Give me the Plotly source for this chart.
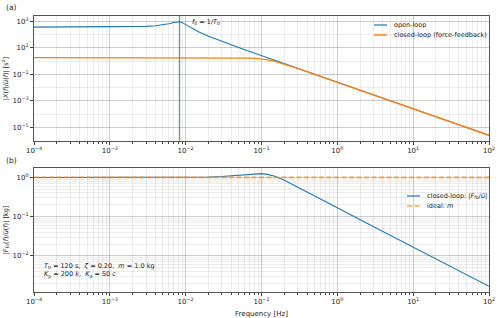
import math
import plotly.graph_objects as go

# ---- data ----
freq = [1e-4, 2e-4, 5e-4, 1e-3, 2e-3, 3e-3, 4e-3, 5e-3, 6e-3, 7e-3, 7.5e-3, 8e-3,
        8.333e-3, 9e-3, 1e-2, 1.2e-2, 1.5e-2, 2e-2, 3e-2, 4e-2, 5e-2, 7e-2, 8.5e-2,
        0.1, 0.12, 0.15, 0.2, 0.3, 0.5, 1, 2, 5, 10, 20, 50, 100]
open_loop = [364.8, 364.95, 365.96, 369.6, 385.0, 413.4, 459.9, 533.6, 650.0, 816.5,
             896.1, 930.7, 911.9, 787.9, 560.2, 299.4, 155.0, 75.12, 30.28, 16.49,
             10.397, 5.238, 3.537, 2.549, 1.767, 1.129, 0.6343, 0.2816, 0.10135,
             0.025332, 0.0063327, 0.0010132, 2.5331e-4, 6.3326e-5, 1.01321e-5, 2.533e-6]
closed_loop = [1.8147, 1.8147, 1.8147, 1.8147, 1.8146, 1.8145, 1.8144, 1.8143, 1.8142,
               1.8142, 1.8142, 1.8142, 1.8142, 1.8142, 1.8142, 1.8138, 1.8131, 1.8121,
               1.8069, 1.7942, 1.7754, 1.6937, 1.5889, 1.4512, 1.2414, 0.9419, 0.5915,
               0.27665, 0.100966, 0.025315, 0.0063318, 0.0010132, 2.5331e-4, 6.3326e-5,
               1.01321e-5, 2.533e-6]
force_fb = [0.99505, 0.99506, 0.99508, 0.99509, 0.9957, 0.9967, 0.9980, 0.9996, 1.0012,
            1.0030, 1.0039, 1.0049, 1.0055, 1.0068, 1.0019, 1.0035, 1.0110, 1.0218,
            1.0530, 1.0930, 1.1353, 1.2129, 1.2445, 1.2430, 1.1933, 1.0635, 0.8432,
            0.5668, 0.33675, 0.16715, 0.083397, 0.033338, 0.016668, 0.0083335,
            0.0033334, 0.0016667]
ideal_mass = [1.0, 1.0]
ideal_freq = [1e-4, 100]

f0 = 1 / 120.0

x_tickvals = [1e-4, 1e-3, 1e-2, 1e-1, 1, 10, 100]
x_ticktext = ["10<sup>−4</sup>", "10<sup>−3</sup>", "10<sup>−2</sup>", "10<sup>−1</sup>",
              "10<sup>0</sup>", "10<sup>1</sup>", "10<sup>2</sup>"]
y1_tickvals = [1e3, 1e1, 1e-1, 1e-3, 1e-5]
y1_ticktext = ["10<sup>3</sup>", "10<sup>1</sup>", "10<sup>−1</sup>", "10<sup>−3</sup>",
               "10<sup>−5</sup>"]
y2_tickvals = [1, 1e-1, 1e-2]
y2_ticktext = ["10<sup>0</sup>", "10<sup>−1</sup>", "10<sup>−2</sup>"]

legend_a = ["open-loop", "closed-loop (force-feedback)"]
legend_b = ["closed-loop: |<i>F</i><sub>fb</sub>/<i>ü</i>|", "ideal: <i>m</i>"]

BLUE = "#1f77b4"
ORANGE = "#ff7f0e"
FONT = "DejaVu Sans"
TXT = "#222"
DASH = "5px,2.5px"

fig = go.Figure()
fig.add_trace(go.Scatter(x=freq, y=open_loop, mode="lines", name=legend_a[0],
                         line=dict(color=BLUE, width=1.1), xaxis="x", yaxis="y",
                         showlegend=False))
fig.add_trace(go.Scatter(x=freq, y=closed_loop, mode="lines", name=legend_a[1],
                         line=dict(color=ORANGE, width=1.3), xaxis="x", yaxis="y",
                         showlegend=False))
fig.add_trace(go.Scatter(x=freq, y=force_fb, mode="lines", name=legend_b[0],
                         line=dict(color=BLUE, width=1.1), xaxis="x2", yaxis="y2",
                         showlegend=False))
fig.add_trace(go.Scatter(x=ideal_freq, y=ideal_mass, mode="lines", name=legend_b[1],
                         line=dict(color=ORANGE, width=1.7, dash=DASH),
                         opacity=0.7, xaxis="x2", yaxis="y2", showlegend=False))

grid_major = "rgba(0,0,0,0.13)"
grid_minor = "rgba(0,0,0,0.07)"

def xax(anchor, title=None):
    d = dict(type="log", range=[-4, 2], anchor=anchor, tickvals=x_tickvals,
             ticktext=x_ticktext, ticks="outside", ticklen=3, tickcolor="#444",
             showline=True, linecolor="#555", linewidth=1, mirror=True,
             showgrid=True, gridcolor=grid_major, gridwidth=0.8, zeroline=False,
             automargin=False,
             tickfont=dict(size=7, color=TXT, family=FONT),
             minor=dict(showgrid=True, gridcolor=grid_minor, ticks="outside",
                        ticklen=1.5, tickcolor="#444", dtick="D1"))
    if title:
        d["title"] = dict(text=title, font=dict(size=7, color=TXT, family=FONT),
                          standoff=5)
    return d

def yax(domain, rng, tv, tt, title, minor_dtick, anchor):
    return dict(type="log", domain=domain, range=rng, anchor=anchor, tickvals=tv,
                ticktext=tt, ticks="outside", ticklen=3, tickcolor="#444",
                showline=True, linecolor="#555", linewidth=1, mirror=True,
                showgrid=True, gridcolor=grid_major, gridwidth=0.8, zeroline=False,
                automargin=False,
                tickfont=dict(size=7, color=TXT, family=FONT),
                title=dict(text=title, font=dict(size=6.5, color=TXT, family=FONT),
                           standoff=3),
                minor=dict(showgrid=True, gridcolor=grid_minor, dtick=minor_dtick))

fig.update_layout(
    width=500, height=318,
    margin=dict(l=34, r=11, t=16, b=26),
    paper_bgcolor="white", plot_bgcolor="white",
    font=dict(family=FONT, size=7, color=TXT),
    xaxis=xax("y"),
    xaxis2=xax("y2", "Frequency [Hz]"),
    yaxis=yax([0.5471, 1.0], [-6.025, 3.397], y1_tickvals, y1_ticktext,
              "|<i>X</i>(<i>f</i>)/<i>ü</i>(<i>f</i>)| [s<sup>2</sup>]", 1, "x"),
    yaxis2=yax([0.0, 0.4493], [-2.922, 0.239], y2_tickvals, y2_ticktext,
               "|<i>F</i><sub>fb</sub>(<i>f</i>)/<i>ü</i>(<i>f</i>)| [kg]", "D1", "x2"),
    showlegend=False,
)

# pixel -> paper helpers (plot area: x 34..489, y 16..292)
def px(x):
    return (x - 34) / 455.0

def py(y):
    return (292 - y) / 276.0

fig.add_shape(type="line", xref="x", yref="y domain", x0=f0, x1=f0, y0=0, y1=1,
              line=dict(color=BLUE, width=0.9))

fig.add_annotation(x=math.log10(f0) + 0.14, xref="x", y=0.95, yref="y domain",
                   text="<i>f</i><sub>0</sub> = 1/<i>T</i><sub>0</sub>",
                   showarrow=False, xanchor="left", yanchor="middle",
                   font=dict(size=6.5, family=FONT, color=TXT))
fig.add_annotation(x=px(4), xref="paper", y=py(7), yref="paper",
                   text="(a)", showarrow=False, xanchor="left", yanchor="middle",
                   font=dict(size=7.5, family=FONT, color=TXT))
fig.add_annotation(x=px(4), xref="paper", y=py(160), yref="paper",
                   text="(b)", showarrow=False, xanchor="left", yanchor="middle",
                   font=dict(size=7.5, family=FONT, color=TXT))
fig.add_annotation(x=px(42), xref="paper", y=py(281), yref="paper",
                   text=("<i>T</i><sub>0</sub> = 120 s,  <i>ζ</i> = 0.20,  <i>m</i> = 1.0 kg<br>"
                         "<i>K</i><sub>p</sub> = 200 <i>k</i>,  <i>K</i><sub>d</sub> = 50 <i>c</i>"),
                   showarrow=False, xanchor="left", yanchor="bottom", align="left",
                   font=dict(size=6.5, family=FONT, color=TXT))

# manual legends (matplotlib-style short line samples)
def legend_entry(x0, x1, y, label, color, dash="solid", opacity=1.0, width=1.2):
    fig.add_shape(type="line", xref="paper", yref="paper", x0=px(x0), x1=px(x1),
                  y0=py(y), y1=py(y), line=dict(color=color, width=width, dash=dash),
                  opacity=opacity)
    fig.add_annotation(x=px(x1 + 5), xref="paper", y=py(y), yref="paper",
                       text=label, showarrow=False, xanchor="left", yanchor="middle",
                       font=dict(size=6.5, family=FONT, color=TXT))

legend_entry(374, 387, 25, legend_a[0], BLUE)
legend_entry(374, 387, 35, legend_a[1], ORANGE, width=1.4)
legend_entry(407, 420, 196, legend_b[0], BLUE)
legend_entry(407, 420, 206, legend_b[1], ORANGE, dash=DASH, opacity=0.7, width=1.7)

fig.write_html("out.html")
